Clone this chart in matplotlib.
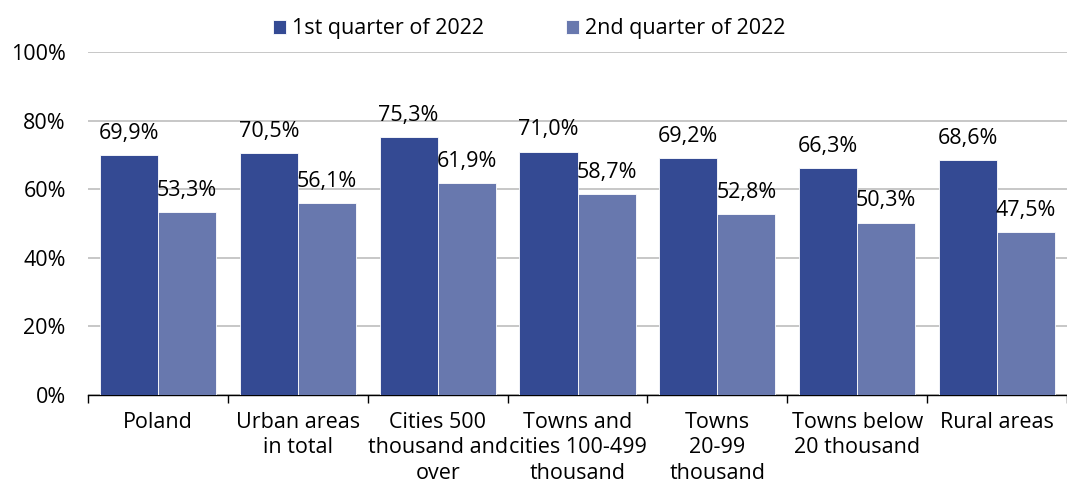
import matplotlib
matplotlib.use("Agg")
import matplotlib.pyplot as plt
import numpy as np

categories = ["Poland", "Urban areas\nin total", "Cities 500\nthousand and\nover",
              "Towns and\ncities 100-499\nthousand", "Towns\n20-99\nthousand",
              "Towns below\n20 thousand", "Rural areas"]
q1 = [69.9, 70.5, 75.3, 71.0, 69.2, 66.3, 68.6]
q2 = [53.3, 56.1, 61.9, 58.7, 52.8, 50.3, 47.5]
series_names = ["1st quarter of 2022", "2nd quarter of 2022"]
yticks = [0, 20, 40, 60, 80, 100]

plt.rcParams['font.family'] = ['Open Sans', 'DejaVu Sans']
fig = plt.figure(figsize=(10.67, 4.86), dpi=100)
ax = fig.add_axes([0.0825, 0.187, 0.9175, 0.706])

x = np.arange(len(categories))
w = 0.415
c1, c2 = "#344A93", "#6878AE"
b1 = ax.bar(x - w/2, q1, w, color=c1, edgecolor="white", linewidth=0.6, label=series_names[0], zorder=3)
b2 = ax.bar(x + w/2, q2, w, color=c2, edgecolor="white", linewidth=0.6, label=series_names[1], zorder=3)

fs = 15.5
for rects, vals in ((b1, q1), (b2, q2)):
    for r, v in zip(rects, vals):
        ax.annotate(f"{v:.1f}%".replace(".", ","), (r.get_x() + r.get_width()/2, v),
                    xytext=(0, 8), textcoords="offset points", ha="center", va="bottom",
                    fontsize=fs, color="black")

ax.set_xlim(-0.5, len(categories) - 0.5)
ax.set_ylim(0, 100)
ax.set_yticks(yticks)
ax.set_yticklabels([f"{t}%" for t in yticks], fontsize=fs)
ax.yaxis.grid(True, color="#BDBDBD", linewidth=1.2, zorder=0)
ax.tick_params(axis="y", length=0, pad=16)

ax.set_xticks(x)
ax.set_xticklabels(categories, fontsize=fs, linespacing=1.28)
ax.tick_params(axis="x", length=0, pad=12)
ax.set_xticks(np.arange(len(categories) + 1) - 0.5, minor=True)
ax.tick_params(axis="x", which="minor", length=6, width=1, color="black")

for s in ["top", "right", "left"]:
    ax.spines[s].set_visible(False)
ax.spines["bottom"].set_color("black")
ax.spines["bottom"].set_linewidth(1)

leg = fig.legend(handles=[b1, b2], loc="upper center", bbox_to_anchor=(0.496, 1.002), ncol=2,
                 frameon=False, fontsize=fs, handlelength=0.6, handleheight=0.6,
                 columnspacing=3.8, handletextpad=0.3)

fig.savefig("out.png", dpi=100)
